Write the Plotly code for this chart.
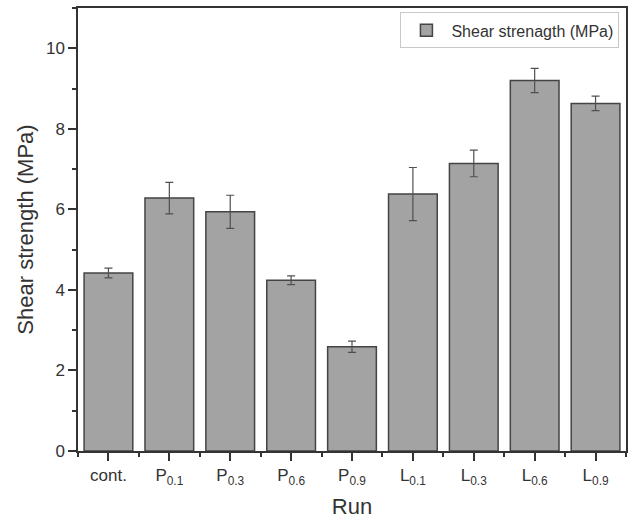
import plotly.graph_objects as go

categories = ["cont.", "P<sub>0.1</sub>", "P<sub>0.3</sub>", "P<sub>0.6</sub>", "P<sub>0.9</sub>",
              "L<sub>0.1</sub>", "L<sub>0.3</sub>", "L<sub>0.6</sub>", "L<sub>0.9</sub>"]
shear_strength = [4.42, 6.28, 5.94, 4.24, 2.59, 6.38, 7.14, 9.20, 8.63]
shear_error = [0.12, 0.39, 0.41, 0.11, 0.14, 0.66, 0.33, 0.30, 0.18]

positions = list(range(len(categories)))

fig = go.Figure()
fig.add_trace(go.Bar(
    x=positions, y=shear_strength,
    width=0.8,
    name="Shear strenagth (MPa)",
    marker=dict(color="#a3a3a3", line=dict(color="#444444", width=1.5)),
    error_y=dict(type="data", array=shear_error, visible=True,
                 color="#505050", thickness=1.2, width=4),
    showlegend=True,
))

fig.update_layout(
    width=633, height=522,
    margin=dict(l=78, r=5, t=8, b=71),
    plot_bgcolor="white", paper_bgcolor="white",
    font=dict(family="Liberation Sans, Arial, sans-serif", color="#333333"),
    showlegend=True,
    legend=dict(x=0.988, y=0.99, xanchor="right", yanchor="top",
                bordercolor="#c8c8c8", borderwidth=1, bgcolor="white",
                font=dict(size=16, color="#333333"),
                itemwidth=40),
    bargap=0.2,
)

fig.update_xaxes(
    range=[-0.5, len(categories) - 0.5],
    tickmode="array", tickvals=positions, ticktext=categories,
    ticks="outside", ticklen=8, tickwidth=1.5, tickcolor="#333333",
    minor=dict(tick0=0.5, dtick=1, ticks="outside", ticklen=4, tickwidth=1.5, tickcolor="#333333"),
    showline=True, linecolor="#333333", linewidth=1.5, mirror=True,
    showgrid=False, zeroline=False,
    tickfont=dict(size=17),
    title=dict(text="Run", font=dict(size=22), standoff=12),
)
fig.update_yaxes(
    range=[0, 11],
    tickmode="linear", tick0=0, dtick=2,
    ticks="outside", ticklen=8, tickwidth=1.5, tickcolor="#333333",
    minor=dict(dtick=1, ticks="outside", ticklen=4, tickwidth=1.5, tickcolor="#333333"),
    showline=True, linecolor="#333333", linewidth=1.5, mirror=True,
    showgrid=False, zeroline=False,
    tickfont=dict(size=17),
    title=dict(text="Shear strength (MPa)", font=dict(size=22), standoff=6),
)

fig.write_html("out.html")
